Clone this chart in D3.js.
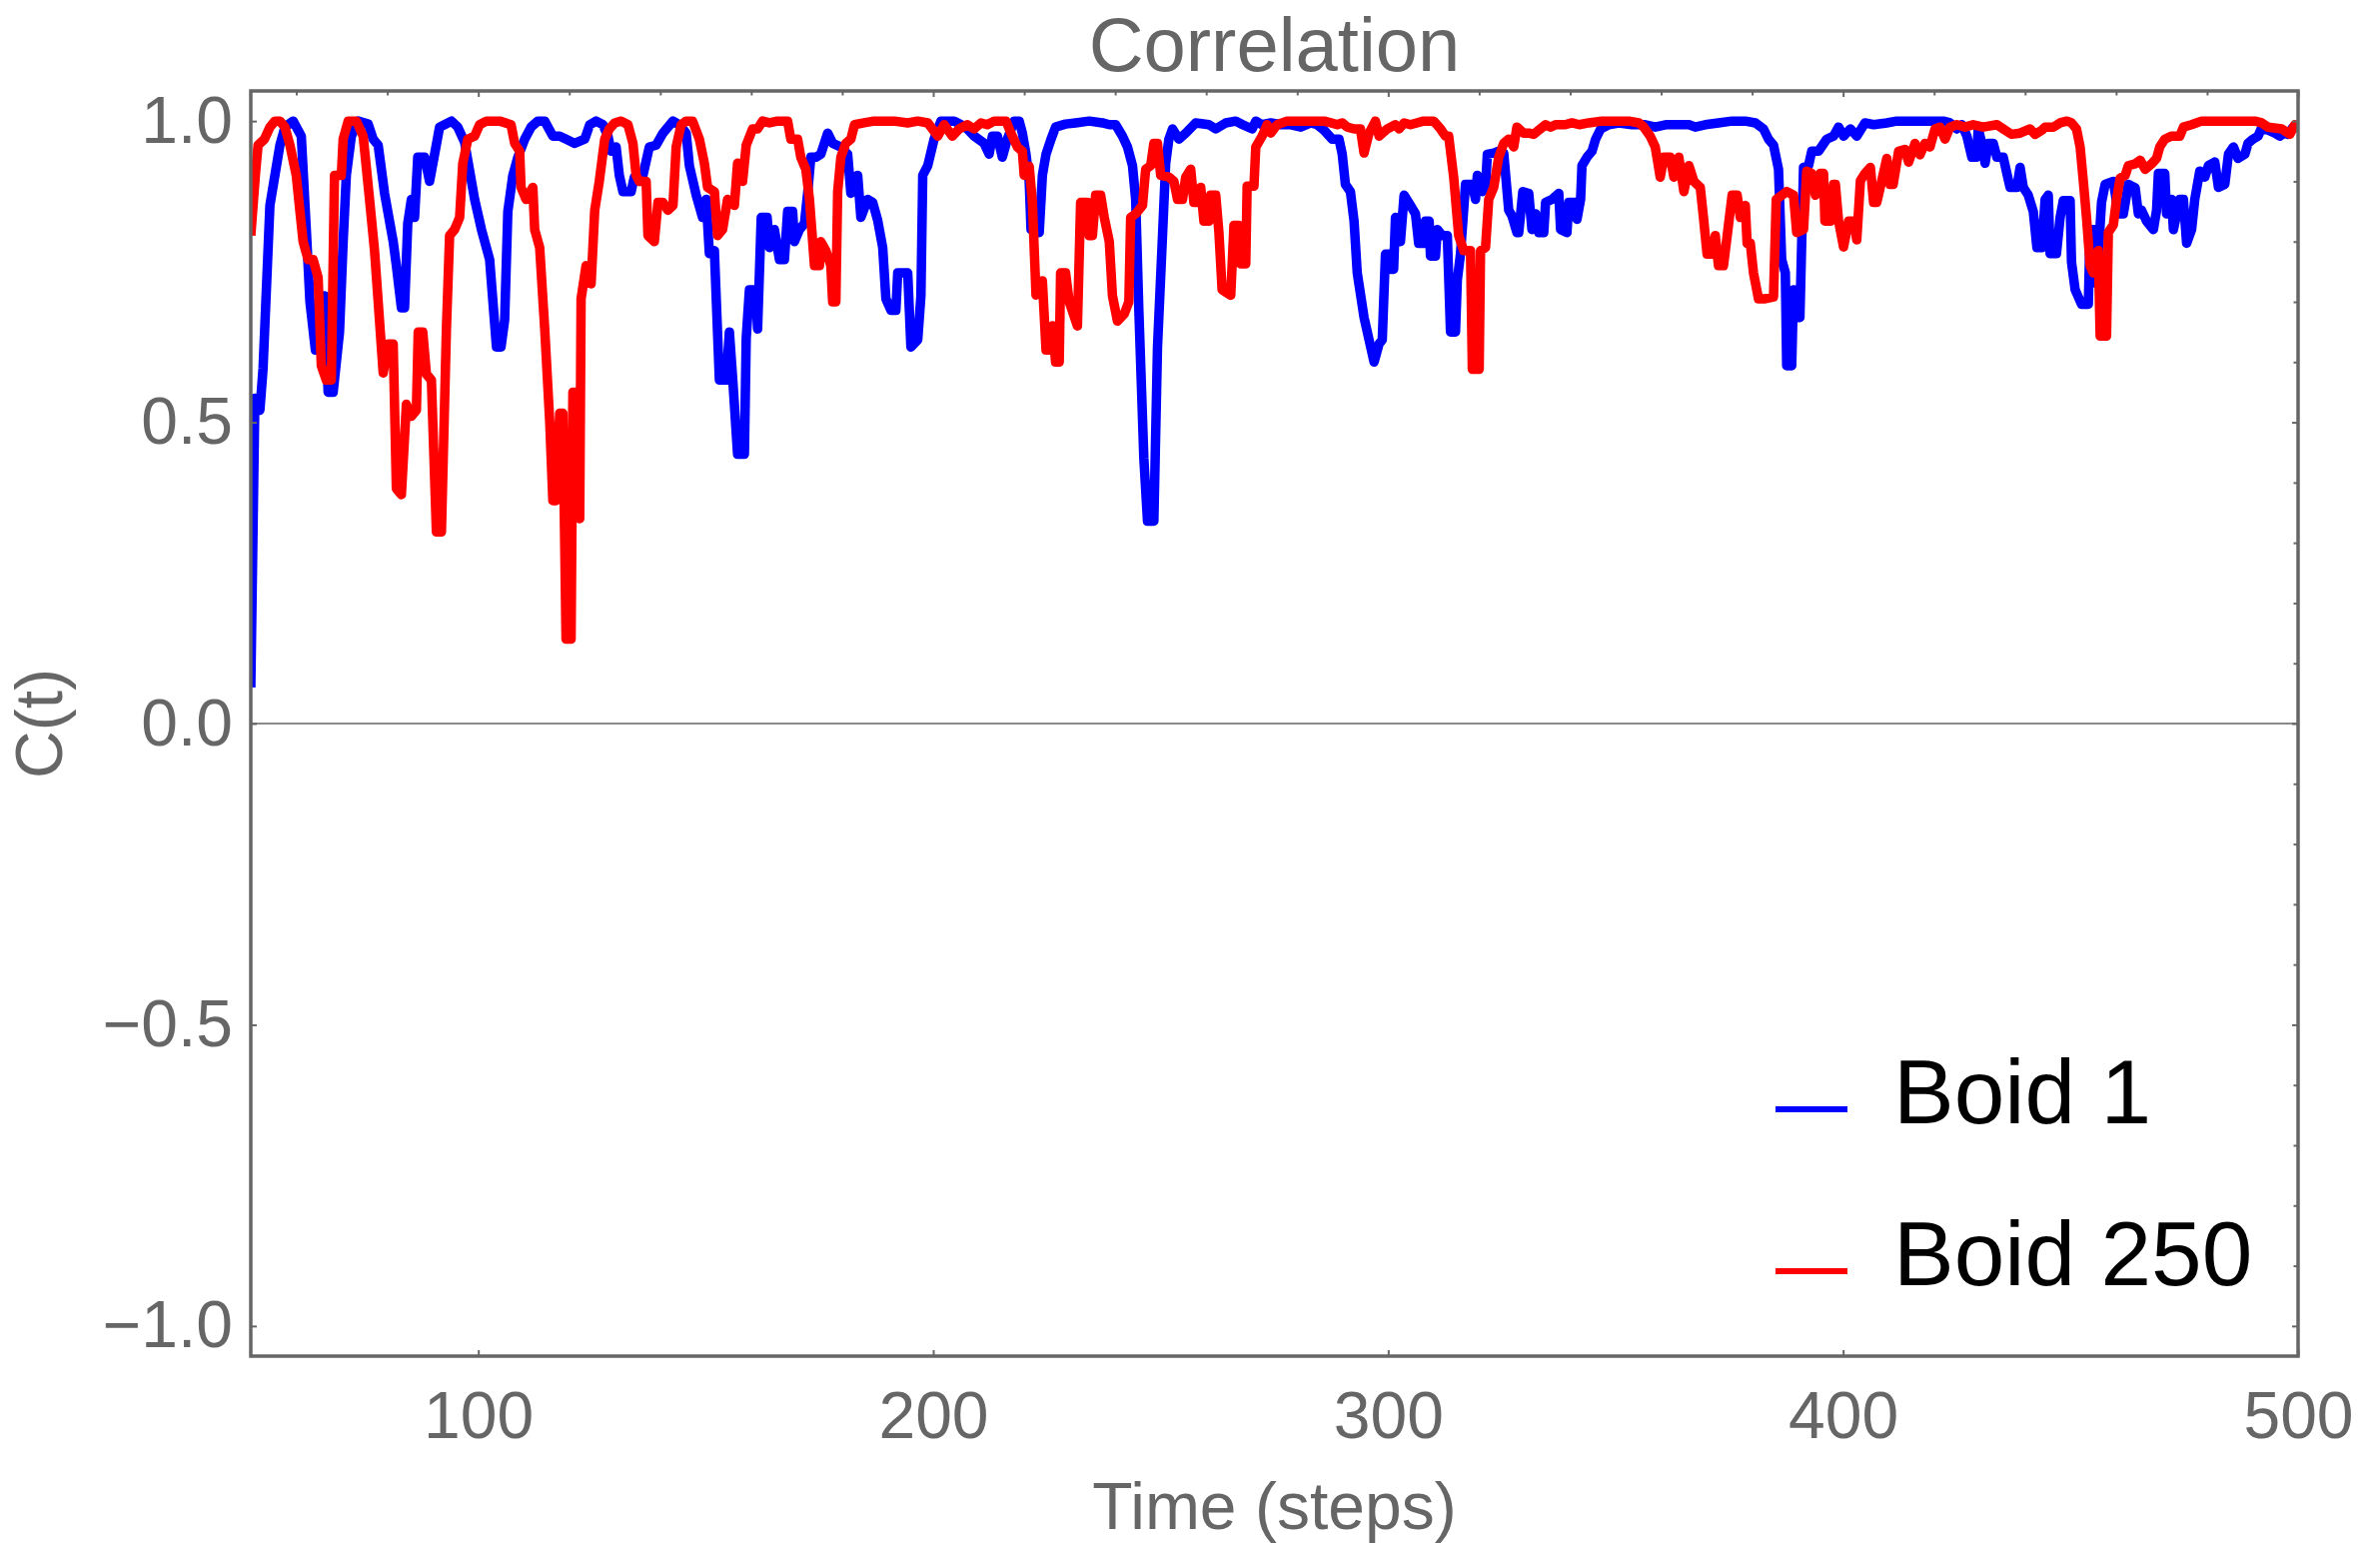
<!DOCTYPE html>
<html>
<head>
<meta charset="utf-8">
<script src="https://cdn.jsdelivr.net/npm/d3@7"></script>
<style>
  html, body { margin: 0; padding: 0; background: #fff; }
  svg { display: block; }
  text { font-family: "Liberation Sans", Arial, Helvetica, sans-serif; }
</style>
</head>
<body>
<svg id="chart" width="2382" height="1549"></svg>
<script>
// ---------------- DATA ----------------
const title = "Correlation";
const xLabel = "Time (steps)";
const yLabel = "C(t)";
const seriesNames = ["Boid 1", "Boid 250"];
const seriesColors = ["#0000ff", "#ff0000"];

const xTickValues = [100, 200, 300, 400, 500];
const xTickLabels = ["100", "200", "300", "400", "500"];
const yTickValues = [-1, -0.5, 0, 0.5, 1];
const yTickLabels = ["\u22121.0", "\u22120.5", "0.0", "0.5", "1.0"];

// Boid 1 (blue): time steps and correlation values
const boid1T = [50.0,50.9,52.0,52.7,54.2,55.3,56.4,57.5,59.3,61.1,62.2,63.0,64.2,65.2,66.2,67.0,68.1,69.5,70.3,71.0,72.1,73.6,75.8,76.9,78.0,79.4,81.3,82.0,83.1,83.8,84.5,85.3,86.0,86.7,88.2,89.3,90.4,91.5,94.1,95.5,97.0,99.2,100.7,102.5,104.0,105.0,
105.8,106.5,107.6,108.7,110.2,111.6,113.1,114.6,116.4,117.9,119.3,121.2,123.4,124.5,125.9,127.4,128.5,129.2,130.3,131.0,131.8,133.6,134.3,135.4,136.2,137.6,139.1,140.6,142.8,144.2,145.7,146.4,147.9,149.3,150.1,150.8,151.9,153.0,154.5,155.2,156.0,157.0,158.5,158.9,159.6,161.0,161.4,
162.2,163.5,164.0,165.1,166.2,167.3,168.0,169.1,169.5,170.6,171.7,172.4,173.1,174.2,175.3,176.8,177.9,179.7,181.2,181.9,183.4,184.1,185.6,186.7,187.8,188.9,189.6,190.7,191.8,192.2,194.4,195.1,196.6,197.3,197.7,198.8,200.2,201.7,203.1,204.6,206.1,207.5,209.0,211.2,212.3,213.0,214.1,215.2,216.3,217.8,218.9,
219.6,220.4,221.1,221.5,223.3,224.0,224.8,225.9,226.9,229.1,231.3,234.3,237.2,238.7,240.1,241.6,242.7,243.8,244.5,245.2,246.3,247.1,248.5,249.3,250.4,251.1,251.8,252.6,254.0,255.5,257.7,260.6,262.1,264.3,266.5,268.0,270.1,270.9,272.3,
274.2,276.4,278.6,280.8,283.0,284.4,285.9,287.7,289.2,289.9,290.6,291.7,292.5,293.2,294.7,295.8,296.9,298.0,298.7,299.4,300.2,300.5,301.2,301.6,302.7,303.5,304.9,306.0,306.7,307.8,308.2,309.0,309.3,310.4,310.8,311.9,313.0,313.7,314.8,315.2,315.9,317.0,318.5,319.2,319.6,320.7,321.4,321.8,323.2,324.3,325.4,326.5,327.2,328.3,
328.7,329.6,330.9,331.6,332.4,333.1,334.2,334.6,336.0,337.5,337.9,339.3,339.7,341.2,341.5,342.3,342.6,343.7,344.8,345.6,346.7,348.5,350.7,353.6,356.5,358.7,361.0,363.9,366.1,367.5,369.7,372.6,375.6,378.5,380.7,382.5,383.6,
384.7,385.8,386.5,387.3,387.6,388.7,389.1,389.8,390.5,391.3,392.4,393.1,394.6,396.4,397.9,399.0,400.1,401.6,403.0,404.8,406.7,409.6,411.8,414.0,416.9,419.9,422.0,423.5,425.0,426.1,427.2,428.3,429.3,429.7,430.5,431.2,431.9,433.0,433.8,435.2,436.0,436.7,438.2,438.9,439.6,440.7,
441.8,442.6,443.7,444.4,445.1,445.5,446.9,447.7,448.4,449.9,450.2,451.0,452.4,453.9,454.3,455.4,455.7,456.8,457.6,459.4,460.5,461.6,462.7,464.2,464.9,465.6,466.7,468.2,468.9,469.3,470.7,471.1,472.2,472.6,474.0,474.8,475.5,476.6,477.3,478.4,479.5,480.3,481.7,482.5,483.9,484.7,485.8,486.8,488.3,489.0,490.1,491.2,491.9,493.4,494.9,496.0,496.7,497.8,498.9,500.0];
const boid1C = [0.06,0.54,0.52,0.59,0.86,0.91,0.96,0.99,1.00,0.975,0.82,0.70,0.62,0.62,0.71,0.55,0.55,0.65,0.80,0.91,0.975,1.00,0.995,0.97,0.96,0.88,0.80,0.76,0.69,0.69,0.83,0.87,0.84,0.94,0.94,0.90,0.945,0.99,1.00,0.99,0.965,0.87,0.82,0.77,0.625,0.625,
0.67,0.85,0.91,0.94,0.97,0.99,1.00,1.00,0.975,0.975,0.97,0.963,0.97,0.994,1.00,0.994,0.975,0.95,0.957,0.91,0.883,0.883,0.907,0.90,0.91,0.957,0.96,0.98,1.00,0.994,0.98,0.926,0.877,0.84,0.87,0.78,0.785,0.57,0.57,0.65,0.564,0.447,0.447,0.64,0.72,0.72,0.655,
0.84,0.84,0.79,0.82,0.77,0.77,0.85,0.85,0.80,0.82,0.83,0.88,0.94,0.94,0.945,0.98,0.963,0.957,0.945,0.88,0.91,0.84,0.87,0.865,0.835,0.79,0.705,0.686,0.686,0.748,0.748,0.625,0.637,0.71,0.91,0.926,0.97,1.00,1.00,1.00,0.994,0.987,0.975,0.963,0.945,0.975,0.975,0.94,0.97,1.00,1.00,
0.98,0.945,0.90,0.82,0.815,0.91,0.945,0.97,0.99,0.995,0.997,1.00,0.997,0.994,0.994,0.975,0.957,0.926,0.87,0.686,0.44,0.336,0.336,0.625,0.81,0.93,0.97,0.987,0.97,0.98,0.997,0.994,0.987,0.997,1.00,0.994,0.987,1.00,0.994,
0.997,0.994,0.994,0.99,0.997,0.994,0.985,0.97,0.97,0.945,0.895,0.883,0.834,0.748,0.674,0.637,0.60,0.63,0.637,0.779,0.779,0.754,0.754,0.84,0.80,0.877,0.86,0.846,0.797,0.797,0.834,0.834,0.776,0.776,0.82,0.81,0.81,0.65,0.65,0.736,0.78,0.895,0.895,0.87,0.91,0.883,0.89,0.945,0.947,0.95,0.947,0.852,0.843,0.815,
0.815,0.883,0.88,0.82,0.846,0.815,0.815,0.865,0.87,0.88,0.82,0.815,0.865,0.865,0.837,0.87,0.926,0.94,0.95,0.97,0.987,0.994,0.997,0.994,0.994,0.99,0.994,0.994,0.994,0.99,0.994,0.997,1.00,1.00,0.997,0.987,0.97,
0.96,0.92,0.77,0.748,0.594,0.594,0.72,0.674,0.674,0.923,0.926,0.95,0.95,0.97,0.975,0.99,0.975,0.987,0.975,0.997,0.994,0.997,1.00,1.00,1.00,1.00,1.00,0.997,0.987,0.994,0.975,0.94,0.94,0.987,0.963,0.93,0.963,0.963,0.94,0.94,0.913,0.89,0.89,0.923,0.89,0.877,
0.85,0.79,0.79,0.87,0.877,0.78,0.78,0.84,0.868,0.868,0.766,0.72,0.696,0.696,0.82,0.82,0.73,0.865,0.895,0.90,0.846,0.846,0.895,0.889,0.846,0.852,0.834,0.82,0.852,0.913,0.913,0.846,0.87,0.82,0.87,0.87,0.797,0.82,0.87,0.917,0.907,0.926,0.932,0.89,0.895,0.945,0.957,0.938,0.945,0.963,0.97,0.975,0.987,0.985,0.98,0.975,0.98,0.978,0.99,0.99];

// Boid 250 (red): time steps and correlation values
const boid250T = [50.0,51.0,51.6,53.0,54.2,55.3,56.4,57.5,58.6,60.0,60.8,61.5,62.6,63.7,64.8,65.5,66.6,67.7,68.4,69.9,70.3,71.4,73.2,74.7,76.1,77.2,78.0,79.1,80.2,81.3,82.0,83.1,84.2,85.3,86.4,86.8,87.8,88.6,89.7,90.8,91.9,93.0,93.7,94.8,95.9,96.6,97.7,99.2,100.3,101.8,104.7,
107.2,108.0,109.1,109.4,110.5,112.0,112.4,113.5,114.6,115.7,116.4,117.1,117.9,118.6,119.3,120.4,120.8,121.5,122.3,122.6,123.7,124.8,125.6,126.6,127.8,128.8,130.0,131.4,132.9,134.0,134.7,135.4,136.9,137.3,138.7,139.5,140.6,141.7,142.8,143.5,144.6,145.7,147.1,148.6,149.7,150.4,151.9,152.6,153.7,154.8,156.3,157.0,158.1,158.9,160.3,161.4,162.5,
164.0,165.8,168.0,168.7,170.2,170.9,172.0,172.8,173.5,173.9,175.0,175.3,176.4,177.5,177.9,178.6,179.0,179.7,180.8,181.9,182.7,184.8,187.0,189.2,191.4,194.4,196.6,198.8,201.0,202.4,204.2,205.7,207.5,209.0,210.5,211.9,213.4,216.0,217.1,
218.5,219.6,220.0,221.1,221.8,222.6,224.0,224.8,225.9,226.2,226.9,227.7,228.0,229.1,229.9,231.7,232.4,233.9,234.3,235.0,235.7,236.8,237.6,238.7,239.4,240.5,242.0,243.0,243.4,244.5,246.0,246.7,247.8,248.5,249.3,250.0,251.8,252.9,253.7,254.8,255.5,256.6,257.3,258.4,258.8,259.5,260.6,261.0,262.1,262.8,263.5,265.4,266.1,267.2,267.6,268.7,269.0,270.5,270.9,272.3,273.4,
274.2,275.6,277.8,280.0,283.0,285.9,287.4,288.8,289.9,291.0,292.5,293.9,294.7,295.8,297.2,298.0,299.8,301.6,302.4,303.5,304.9,307.8,310.0,311.5,312.6,313.3,314.4,315.5,316.6,318.1,318.5,320.0,320.3,321.4,322.1,323.2,324.3,325.4,326.5,327.6,328.3,
329.8,330.9,332.0,333.1,334.6,335.7,336.8,338.9,340.4,342.0,344.1,347.0,350.7,352.9,355.1,356.2,357.6,358.7,359.8,360.6,362.0,362.8,363.9,365.0,366.1,367.2,368.6,369.3,370.1,371.2,371.9,372.6,373.7,374.8,375.6,376.7,377.4,378.5,378.9,379.6,380.3,381.4,382.9,384.7,
385.3,386.2,387.6,389.1,389.8,391.3,392.0,393.1,393.9,395.0,395.7,396.0,397.2,397.9,398.3,399.0,400.1,401.2,402.3,403.0,403.8,404.8,406.0,406.7,407.4,408.5,409.6,410.3,411.0,412.2,413.6,414.4,415.8,416.9,418.0,419.1,420.2,421.3,422.4,423.5,425.0,426.8,428.6,430.8,433.8,435.2,437.0,438.9,441.1,
442.2,443.7,444.4,446.2,447.7,449.2,450.2,451.3,452.1,452.8,453.5,454.3,455.0,456.1,456.5,457.9,458.3,459.4,460.1,460.9,462.0,462.7,464.2,465.3,466.4,467.8,468.9,469.6,470.7,472.2,474.0,474.8,476.6,478.8,481.7,486.1,490.5,492.0,493.4,496.4,498.2,499.3,500.0];
const boid250C = [0.81,0.91,0.96,0.97,0.99,1.00,1.00,0.99,0.96,0.91,0.85,0.80,0.77,0.77,0.74,0.594,0.57,0.57,0.91,0.91,0.97,1.00,1.00,0.975,0.87,0.785,0.70,0.582,0.63,0.63,0.39,0.38,0.53,0.51,0.52,0.65,0.65,0.58,0.57,0.318,0.318,0.655,0.81,0.82,0.84,0.93,0.97,0.975,0.994,1.00,1.00,
0.994,0.963,0.95,0.89,0.87,0.89,0.82,0.79,0.656,0.502,0.37,0.37,0.515,0.515,0.14,0.14,0.55,0.55,0.34,0.705,0.76,0.73,0.852,0.90,0.97,0.987,0.997,1.00,0.994,0.963,0.91,0.90,0.90,0.81,0.80,0.865,0.865,0.852,0.86,0.957,0.994,1.00,1.00,0.97,0.93,0.89,0.883,0.81,0.82,0.87,0.86,0.93,0.90,0.96,0.987,0.987,1.00,
0.997,1.00,1.00,0.97,0.97,0.94,0.92,0.87,0.80,0.76,0.76,0.80,0.785,0.76,0.70,0.70,0.883,0.94,0.963,0.97,0.994,0.997,1.00,1.00,1.00,0.997,1.00,0.997,0.975,0.994,0.975,0.987,0.994,0.987,0.997,0.994,1.00,1.00,0.98,
0.957,0.95,0.91,0.925,0.865,0.711,0.735,0.62,0.62,0.66,0.60,0.60,0.748,0.748,0.70,0.66,0.865,0.865,0.81,0.81,0.877,0.877,0.84,0.80,0.71,0.668,0.68,0.70,0.84,0.846,0.86,0.92,0.926,0.963,0.963,0.91,0.907,0.90,0.87,0.87,0.907,0.92,0.865,0.865,0.89,0.834,0.834,0.877,0.877,0.815,0.72,0.711,0.827,0.827,0.763,0.763,0.892,0.892,0.957,0.975,0.994,
0.98,0.994,1.00,1.00,1.00,1.00,0.997,0.994,0.997,0.99,0.987,0.987,0.947,0.98,1.00,0.975,0.987,0.994,0.987,0.997,0.994,1.00,1.00,0.987,0.975,0.975,0.907,0.81,0.785,0.785,0.588,0.588,0.785,0.79,0.87,0.89,0.94,0.963,0.97,0.957,0.99,
0.98,0.98,0.978,0.985,0.994,0.99,0.994,0.994,0.997,0.994,0.997,1.00,1.00,1.00,0.997,0.99,0.975,0.957,0.907,0.94,0.94,0.907,0.94,0.883,0.926,0.90,0.89,0.84,0.779,0.779,0.81,0.76,0.76,0.827,0.877,0.877,0.84,0.86,0.797,0.797,0.748,0.705,0.705,0.708,
0.87,0.875,0.883,0.877,0.815,0.82,0.917,0.913,0.877,0.913,0.913,0.834,0.834,0.895,0.895,0.834,0.791,0.834,0.834,0.803,0.901,0.913,0.923,0.865,0.865,0.901,0.938,0.895,0.895,0.95,0.953,0.932,0.963,0.944,0.963,0.957,0.987,0.99,0.97,0.99,0.994,0.99,0.994,0.99,0.994,0.987,0.978,0.98,0.987,
0.978,0.985,0.99,0.99,0.997,1.00,0.997,0.987,0.957,0.90,0.84,0.76,0.748,0.785,0.643,0.643,0.815,0.828,0.87,0.905,0.91,0.926,0.929,0.935,0.92,0.929,0.938,0.957,0.97,0.975,0.975,0.99,0.994,1.00,1.00,1.00,1.00,0.997,0.99,0.987,0.978,0.994,0.985];

// ---------------- CHART ----------------
const frame = { left: 251, right: 2300, top: 91, bottom: 1357 };
const gray = "#666666";

const svg = d3.select("#chart");
const x = d3.scaleLinear().domain([50, 500]).range([frame.left, frame.right]);
const y = d3.scaleLinear().domain([-1.05, 1.05]).range([frame.bottom, frame.top]);

svg.append("defs").append("clipPath").attr("id", "plotClip")
  .append("rect")
  .attr("x", frame.left).attr("y", frame.top)
  .attr("width", frame.right - frame.left).attr("height", frame.bottom - frame.top);

// zero line
svg.append("line")
  .attr("x1", x(50)).attr("x2", x(500))
  .attr("y1", y(0)).attr("y2", y(0))
  .attr("stroke", "#8a8a8a").attr("stroke-width", 2);

// series
const series = [d3.zip(boid1T, boid1C), d3.zip(boid250T, boid250C)];
const line = d3.line().x(d => x(d[0])).y(d => y(d[1]));
const gLines = svg.append("g").attr("clip-path", "url(#plotClip)");
series.forEach((s, i) => {
  gLines.append("path")
    .datum(s)
    .attr("d", line)
    .attr("fill", "none")
    .attr("stroke", seriesColors[i])
    .attr("stroke-width", 9.5)
    .attr("stroke-linejoin", "round")
    .attr("stroke-linecap", "butt");
});

// minor tick values (drawn on top and right frame edges)
const xMinor = d3.range(60, 500, 20).filter(v => v % 100 !== 0);
const yMinor = d3.range(-10, 11).map(v => v / 10).filter(v => Math.abs(v * 2 - Math.round(v * 2)) > 1e-6);

function styleAxis(g) {
  g.select(".domain").remove();
  g.selectAll(".tick line").attr("stroke", gray).attr("stroke-width", 2);
  g.selectAll(".tick text")
    .attr("fill", gray)
    .style("font-family", '"Liberation Sans", Arial, Helvetica, sans-serif')
    .style("font-size", "66px");
}

// bottom major with labels
svg.append("g").attr("transform", `translate(0,${frame.bottom})`)
  .call(d3.axisBottom(x).tickValues(xTickValues)
    .tickFormat((d, i) => xTickLabels[i]).tickSizeInner(-6).tickSizeOuter(0).tickPadding(35))
  .call(styleAxis);
// top major / minor
svg.append("g").attr("transform", `translate(0,${frame.top})`)
  .call(d3.axisTop(x).tickValues(xTickValues).tickFormat("").tickSizeInner(-6).tickSizeOuter(0))
  .call(styleAxis);
svg.append("g").attr("transform", `translate(0,${frame.top})`)
  .call(d3.axisTop(x).tickValues(xMinor).tickFormat("").tickSizeInner(-4.5).tickSizeOuter(0))
  .call(styleAxis);
// left major with labels
svg.append("g").attr("transform", `translate(${frame.left},0)`)
  .call(d3.axisLeft(y).tickValues(yTickValues)
    .tickFormat((d, i) => yTickLabels[i]).tickSizeInner(-6).tickSizeOuter(0).tickPadding(18))
  .call(styleAxis);
// right major / minor
svg.append("g").attr("transform", `translate(${frame.right},0)`)
  .call(d3.axisRight(y).tickValues(yTickValues).tickFormat("").tickSizeInner(-6).tickSizeOuter(0))
  .call(styleAxis);
svg.append("g").attr("transform", `translate(${frame.right},0)`)
  .call(d3.axisRight(y).tickValues(yMinor).tickFormat("").tickSizeInner(-4.5).tickSizeOuter(0))
  .call(styleAxis);

// frame
svg.append("rect")
  .attr("x", frame.left).attr("y", frame.top)
  .attr("width", frame.right - frame.left).attr("height", frame.bottom - frame.top)
  .attr("fill", "none").attr("stroke", gray).attr("stroke-width", 3.5);

// title
svg.append("text")
  .attr("x", (frame.left + frame.right) / 2).attr("y", 71)
  .attr("text-anchor", "middle").attr("fill", gray)
  .style("font-size", "76px")
  .text(title);

// x label
svg.append("text")
  .attr("x", (frame.left + frame.right) / 2).attr("y", 1530)
  .attr("text-anchor", "middle").attr("fill", gray)
  .style("font-size", "66px")
  .text(xLabel);

// y label
svg.append("text")
  .attr("transform", `translate(62,${(frame.top + frame.bottom) / 2}) rotate(-90)`)
  .attr("text-anchor", "middle").attr("fill", gray)
  .style("font-size", "66px")
  .text(yLabel);

// legend
const legend = svg.append("g");
const legendRows = [1110, 1272];
seriesNames.forEach((name, i) => {
  legend.append("line")
    .attr("x1", 1777).attr("x2", 1849)
    .attr("y1", legendRows[i]).attr("y2", legendRows[i])
    .attr("stroke", seriesColors[i]).attr("stroke-width", 6);
  legend.append("text")
    .attr("x", 1895).attr("y", legendRows[i] + 14)
    .attr("fill", "#000")
    .style("font-size", "91px")
    .text(name);
});
</script>
</body>
</html>
